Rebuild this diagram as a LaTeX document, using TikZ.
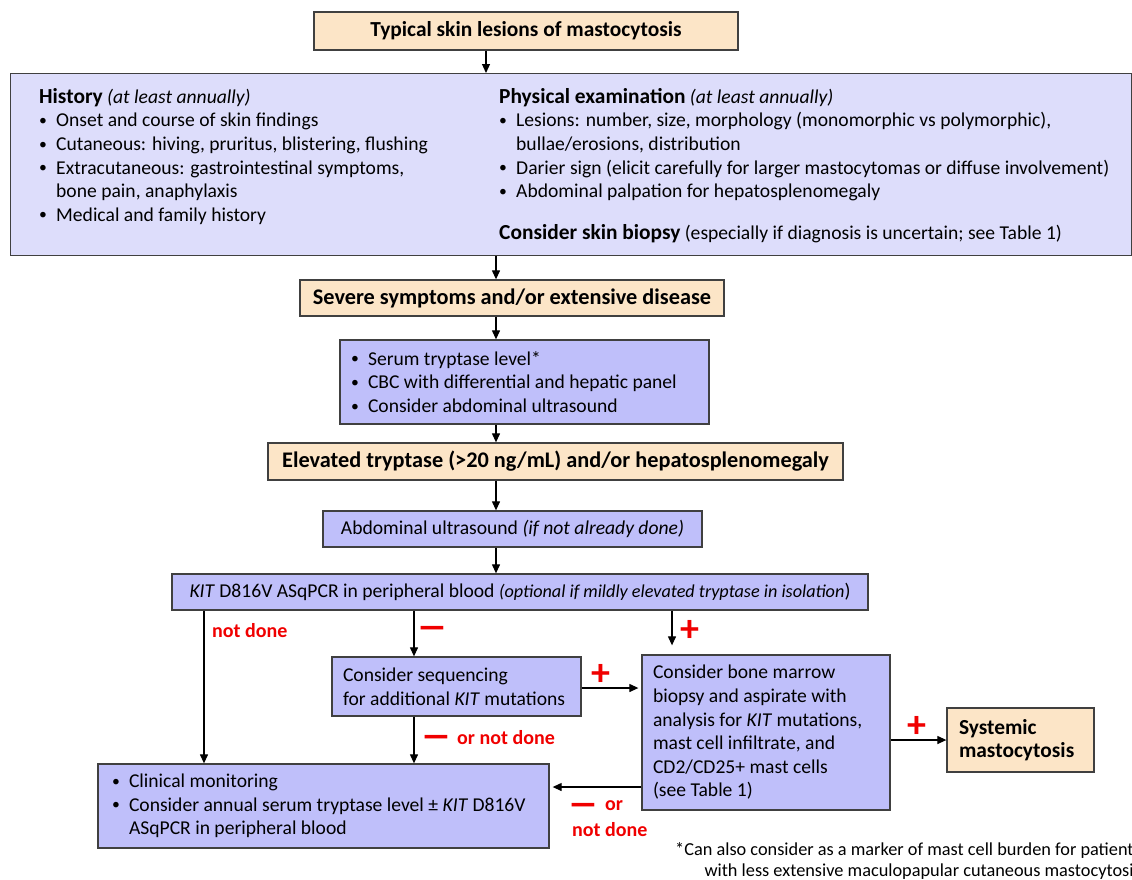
\documentclass[tikz,border=0pt]{standalone}
\usepackage{fontspec}
\usepackage{graphicx}
\setmainfont{Carlito}
\usetikzlibrary{arrows.meta, positioning}

\definecolor{tanfill}{RGB}{252,229,199}
\definecolor{lightfill}{RGB}{221,221,251}
\definecolor{bluefill}{RGB}{191,191,250}
\definecolor{edge}{RGB}{64,64,64}
\definecolor{signred}{RGB}{240,0,0}

\newcommand{\bul}{\makebox[17pt][l]{\raisebox{0.15ex}{\scalebox{0.8}{\textbullet}}}}
\newcommand{\hang}{\hspace*{17pt}}
\newcommand{\hd}{\fontsize{21.4}{23.6}\selectfont\bfseries}
\newcommand{\dash}{\scalebox{1.6}[1]{–}}

\begin{document}
\begin{tikzpicture}[x=1pt,y=-1pt,
  font=\fontsize{19.6}{23.6}\selectfont,
  tanbox/.style={draw=edge, fill=tanfill, line width=1.3pt, inner xsep=12pt, font=\hd},
  panel/.style={draw=edge, fill=lightfill, line width=1.3pt},
  blubox/.style={draw=edge, fill=bluefill, line width=1.3pt, inner xsep=11pt, align=flush left},
  txt/.style={inner sep=0pt, align=left},
  redlab/.style={text=signred, inner sep=0pt, font=\fontsize{20}{23.6}\selectfont\bfseries},
  plus/.style={text=signred, inner sep=0pt, font=\fontsize{38}{38}\selectfont\bfseries},
  minus/.style={text=signred, inner sep=0pt, font=\fontsize{40}{40}\selectfont\bfseries},
  note/.style={inner sep=0pt, align=right, font=\fontsize{18.3}{21.5}\selectfont},
  arr/.style={-{Triangle[length=9pt,width=8pt]}, line width=1.2pt}]
  \useasboundingbox (0,0) rectangle (1132,879);

  \node[tanbox, minimum width=424pt, minimum height=38pt] (skin) at (526,31) {Typical skin lesions of mastocytosis};
  \node[panel, minimum width=1121pt, minimum height=182pt, anchor=north west] (exam) at (10,73) {};
  \node[txt, anchor=north west] (hist) at (39,88) {{\hd History} \textit{(at least annually)}\\
    \bul Onset and course of skin findings\\
    \bul Cutaneous: hiving, pruritus, blistering, flushing\\
    \bul Extracutaneous: gastrointestinal symptoms,\\
    \hang bone pain, anaphylaxis\\
    \bul Medical and family history};
  \node[txt, anchor=north west] (phys) at (499,88) {{\hd Physical examination} \textit{(at least annually)}\\
    \bul Lesions: number, size, morphology (monomorphic vs polymorphic),\\
    \hang bullae/erosions, distribution\\
    \bul Darier sign (elicit carefully for larger mastocytomas or diffuse involvement)\\
    \bul Abdominal palpation for hepatosplenomegaly\\[18pt]
    {\hd Consider skin biopsy} (especially if diagnosis is uncertain; see Table 1)};
  \node[tanbox, minimum width=424pt, minimum height=36pt, font=\fontsize{22.3}{24}\selectfont\bfseries] (severe) at (512,298) {Severe symptoms and/or extensive disease};
  \node[blubox, text width=347pt, minimum height=84pt] (tests) at (524.5,382) {\bul Serum tryptase level*\\
    \bul CBC with differential and hepatic panel\\
    \bul Consider abdominal ultrasound};
  \node[tanbox, minimum width=575pt, minimum height=37pt, font=\fontsize{22.3}{24}\selectfont\bfseries] (elev) at (555.5,461.5) {Elevated tryptase (>20 ng/mL) and/or hepatosplenomegaly};
  \node[blubox, align=center, minimum width=379pt, minimum height=36pt] (abd) at (512.5,529) {Abdominal ultrasound \textit{(if not already done)}};
  \node[blubox, align=center, minimum width=696pt, minimum height=36pt] (kit) at (520,592) {\textit{KIT} D816V ASqPCR in peripheral blood {\fontsize{18.2}{22}\selectfont\itshape (optional if mildly elevated tryptase in isolation}{)}};
  \node[blubox, text width=227pt, minimum height=59pt] (seq) at (456.5,686.5) {Consider sequencing\\ \mbox{for additional \textit{KIT} mutations}};
  \node[blubox, text width=226pt, minimum height=155pt] (bm) at (766,732.5) {Consider bone marrow\\
    biopsy and aspirate with\\
    \mbox{analysis for \textit{KIT} mutations,}\\
    mast cell infiltrate, and\\
    CD2/CD25+ mast cells\\
    (see Table 1)};
  \node[tanbox, text width=123pt, align=flush left, minimum height=64pt] (sys) at (1020.5,740) {Systemic\\ mastocytosis};
  \node[blubox, text width=423pt, inner xsep=14pt, minimum height=84pt] (mon) at (323.5,806) {\bul Clinical monitoring\\
    \mbox{\bul Consider annual serum tryptase level ± \textit{KIT} D816V}\\
    \hang ASqPCR in peripheral blood};

  \node[redlab, anchor=west] (nd1) at (212,631) {not done};
  \node[minus] (m1) at (432,633) {\dash};
  \node[plus] (p1) at (690,631) {+};
  \node[plus] (p2) at (601,675) {+};
  \node[minus] (m2) at (436,742) {\dash};
  \node[redlab, anchor=west] (nd2) at (457,738) {or not done};
  \node[plus] (p3) at (917,727) {+};
  \node[minus] (m3) at (583,810) {\dash};
  \node[redlab, anchor=west] (or3) at (605,806) {or};
  \node[redlab, anchor=west] (nd3) at (572,830) {not done};
  \node[note, anchor=north east] (fn) at (1141,842) {*Can also consider as a marker of mast cell burden for patients\\
    with less extensive maculopapular cutaneous mastocytosis};

  \draw[arr] (486,0 |- skin.south) -- (486,0 |- exam.north);
  \draw[arr] (496,0 |- exam.south) -- (496,0 |- severe.north);
  \draw[arr] (496,0 |- severe.south) -- (496,0 |- tests.north);
  \draw[arr] (496,0 |- tests.south) -- (496,0 |- elev.north);
  \draw[arr] (496,0 |- elev.south) -- (496,0 |- abd.north);
  \draw[arr] (496,0 |- abd.south) -- (496,0 |- kit.north);
  \draw[arr] (204,0 |- kit.south) -- (204,0 |- mon.north);
  \draw[arr] (414,0 |- kit.south) -- (414,0 |- seq.north);
  \draw[arr, shorten >=9pt] (672,0 |- kit.south) -- (672,0 |- bm.north);
  \draw[arr, shorten >=3pt] (seq.east |- 0,688) -- (bm.west |- 0,688);
  \draw[arr] (414,0 |- seq.south) -- (414,0 |- mon.north);
  \draw[arr] (bm.east |- sys.west) -- (sys.west);
  \draw[arr, shorten >=3pt] (bm.west |- 0,787) -- (mon.east |- 0,787);
\end{tikzpicture}
\end{document}
